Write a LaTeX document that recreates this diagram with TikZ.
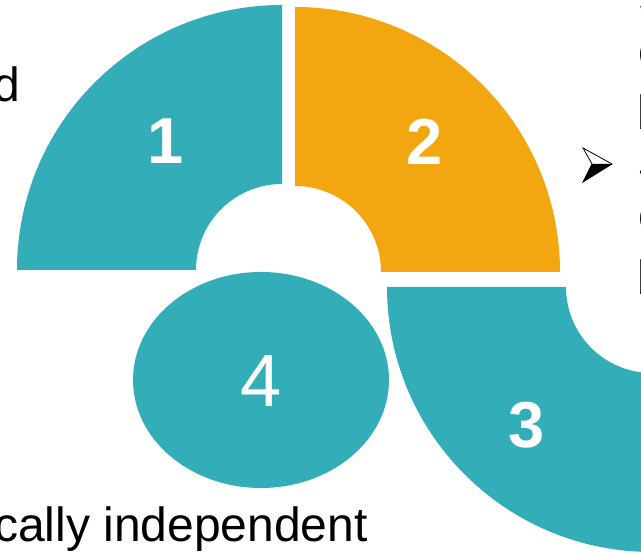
\documentclass[tikz,border=0pt]{standalone}
\usepackage{fontspec}
\setmainfont{Liberation Sans}
\definecolor{tealc}{RGB}{51,174,184}
\definecolor{orangec}{RGB}{242,166,15}
\begin{document}
\begin{tikzpicture}[x=1pt,y=1pt,
  numlbl/.style={text=white,inner sep=0pt,font=\fontsize{65}{70}\selectfont\bfseries},
  bodytext/.style={text=black,inner sep=0pt,font=\fontsize{48}{58}\selectfont}]
\useasboundingbox (0,0) rectangle (641,553);
\clip (0,0) rectangle (641,553);
% sector 1
\fill[tealc] (17,283) arc[start angle=180,end angle=90,radius=265]
  -- (282,369) arc[start angle=90,end angle=180,radius=86] -- cycle;
% sector 2
\fill[orangec] (560,281) arc[start angle=0,end angle=90,radius=265]
  -- (295,367) arc[start angle=90,end angle=0,radius=86] -- cycle;
% sector 3
\fill[tealc] (387,266) arc[start angle=180,end angle=270,radius=265]
  -- (652,180) arc[start angle=270,end angle=180,radius=86] -- cycle;
% ellipse 4
\fill[tealc] (261,173) ellipse[x radius=128,y radius=108];
% labels
\node[numlbl] (l1) at (166,412) {1};
\node[numlbl] (l2) at (425,411) {2};
\node[numlbl] (l3) at (527,128) {3};
\node[text=white,inner sep=0pt,font=\fontsize{74}{80}\selectfont] (l4) at (261,172) {4};
% text
\node[bodytext,anchor=base east] (td) at (20,451) {d};
\node[bodytext,anchor=base east] (tb) at (368,11) {cally independent};
% bullet arrow
\fill[black] (592,389) -- (612,389) -- (583,371) -- cycle;
\draw[black,line width=0.8pt,line join=miter] (583,405) -- (612,389) -- (583,371) -- (592,389) -- cycle;
\draw[black,line width=0.8pt] (592,389) -- (612,389);
% cut-off text at right edge
\node[bodytext,anchor=base west] (r1) at (638,538) {S};
\node[bodytext,anchor=base west] (r2) at (638,485) {c};
\node[bodytext,anchor=base west] (r3) at (637.3,423) {b};
\node[bodytext,anchor=base west] (r4) at (639.5,373) {J};
\node[bodytext,anchor=base west] (r5) at (638,321) {c};
\node[bodytext,anchor=base west] (r6) at (637.3,258) {b};
\end{tikzpicture}
\end{document}
